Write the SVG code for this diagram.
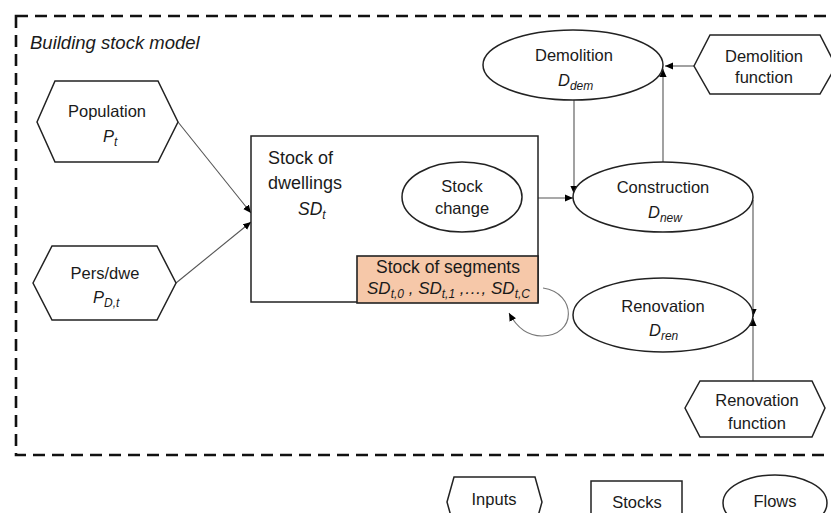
<svg xmlns="http://www.w3.org/2000/svg" width="831" height="513" viewBox="0 0 831 513">
<style>
text{font-family:"Liberation Sans",Arial,sans-serif;fill:#1a1a1a}
.t{font-size:16.5px;text-anchor:middle}
.i{font-style:italic}
.sub{font-size:12px;font-style:italic}
.shape{fill:#ffffff;stroke:#222;stroke-width:1.5}
.conn{fill:none;stroke:#555;stroke-width:1.1}
</style>
<defs>
<marker id="arr" viewBox="0 0 10 10" refX="10" refY="5" markerWidth="8" markerHeight="8" orient="auto" markerUnits="userSpaceOnUse">
<path d="M0,0.5 L10,5 L0,9.5 z" fill="#000"/>
</marker>
</defs>
<rect width="831" height="513" fill="#ffffff"/>
<rect x="16" y="16" width="840" height="439" fill="none" stroke="#111" stroke-width="2.6" stroke-dasharray="12 7"/>
<text x="30" y="49" font-size="18.5" font-style="italic">Building stock model</text>

<g id="connectors">
<path class="conn" d="M178,122 L251,213" marker-end="url(#arr)"/>
<path class="conn" d="M176,283 L251,222" marker-end="url(#arr)"/>
<path class="conn" d="M523,198 L573,198" marker-end="url(#arr)"/>
<path class="conn" d="M574,100 L574,194" marker-end="url(#arr)"/>
<path class="conn" d="M663,163 L663,69" marker-end="url(#arr)"/>
<path class="conn" d="M694,66 L665,66" marker-end="url(#arr)"/>
<path class="conn" d="M753,200 L753,317" marker-end="url(#arr)"/>
<path class="conn" d="M753,381 L753,318" marker-end="url(#arr)"/>
<path class="conn" style="stroke:#777" d="M543,288 C577,293 577,336 542,336 C527,336 516,326 509,313" marker-end="url(#arr)"/>
</g>

<g id="population">
<polygon class="shape" points="37,122 55,81 158,81 178,122 158,162 55,162"/>
<text class="t" x="107" y="117">Population</text>
<text x="103" y="142" font-size="16.5" class="i">P<tspan class="sub" dy="4">t</tspan></text>
</g>

<g id="persdwe">
<polygon class="shape" points="33,283 52,246 157,246 176,283 157,320 52,320"/>
<text class="t" x="105" y="279">Pers/dwe</text>
<text x="93" y="303" font-size="16.5" class="i">P<tspan class="sub" dy="4">D,t</tspan></text>
</g>

<g id="stock-dwellings">
<rect class="shape" x="251" y="136" width="287" height="166"/>
<text x="268" y="164" font-size="18">Stock of</text>
<text x="268" y="189" font-size="18">dwellings</text>
<text x="298" y="215" font-size="17.5" class="i">SD<tspan class="sub" dy="4">t</tspan></text>
</g>

<g id="stock-change">
<ellipse class="shape" cx="462" cy="197" rx="60" ry="35"/>
<text class="t" x="462" y="192" font-size="16">Stock</text>
<text class="t" x="462" y="214" font-size="16">change</text>
</g>

<g id="stock-segments">
<rect x="357" y="256" width="181" height="47" fill="#f6c8a9" stroke="#222" stroke-width="1.6"/>
<text x="448" y="273" font-size="17.5" text-anchor="middle">Stock of segments</text>
<text x="367" y="294" font-size="17" class="i">SD<tspan class="sub" dy="4">t,0</tspan><tspan dy="-4"> , SD</tspan><tspan class="sub" dy="4">t,1</tspan><tspan dy="-4"> ,…, SD</tspan><tspan class="sub" dy="4">t,C</tspan></text>
</g>

<g id="demolition">
<ellipse class="shape" cx="573" cy="65" rx="90" ry="35"/>
<text class="t" x="574" y="61">Demolition</text>
<text x="558" y="86" font-size="16.5" class="i">D<tspan class="sub" dy="4">dem</tspan></text>
</g>

<g id="demolition-function">
<polygon class="shape" points="694,66 710,35 820,35 836,66 820,94 710,94"/>
<text class="t" x="764" y="62">Demolition</text>
<text class="t" x="764" y="83">function</text>
</g>

<g id="construction">
<ellipse class="shape" cx="663" cy="197" rx="90" ry="35"/>
<text class="t" x="663" y="193">Construction</text>
<text x="648" y="218" font-size="16.5" class="i">D<tspan class="sub" dy="4">new</tspan></text>
</g>

<g id="renovation">
<ellipse class="shape" cx="663" cy="315" rx="90" ry="37"/>
<text class="t" x="663" y="312">Renovation</text>
<text x="649" y="336" font-size="16.5" class="i">D<tspan class="sub" dy="4">ren</tspan></text>
</g>

<g id="renovation-function">
<polygon class="shape" points="685,408 700,381 812,381 825,408 812,437 700,437"/>
<text class="t" x="757" y="406">Renovation</text>
<text class="t" x="757" y="429">function</text>
</g>

<g id="legend-inputs">
<polygon class="shape" points="447,502 454,477 535,477 542,502 535,527 454,527"/>
<text class="t" x="494" y="505">Inputs</text>
</g>
<g id="legend-stocks">
<rect class="shape" x="591" y="481" width="91" height="50"/>
<text class="t" x="637" y="508">Stocks</text>
</g>
<g id="legend-flows">
<ellipse class="shape" cx="775" cy="503" rx="52" ry="28"/>
<text class="t" x="775" y="507">Flows</text>
</g>
</svg>
